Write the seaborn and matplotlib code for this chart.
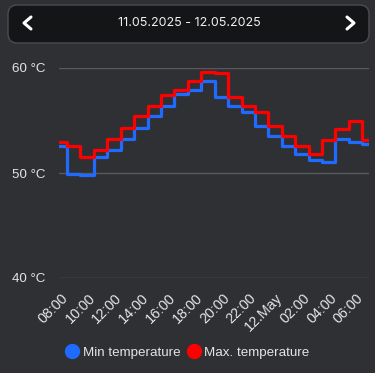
# Min / max temperature step chart, 11.05.2025 - 12.05.2025

import pandas as pd
import matplotlib.pyplot as plt
import matplotlib.transforms as mtransforms
from matplotlib.patches import FancyBboxPatch
from matplotlib.lines import Line2D
import seaborn as sns

# data (hourly values, step style)
times = ["2025-05-11 07:24",
         "2025-05-11 08:00", "2025-05-11 09:00", "2025-05-11 10:00", "2025-05-11 11:00",
         "2025-05-11 12:00", "2025-05-11 13:00", "2025-05-11 14:00", "2025-05-11 15:00",
         "2025-05-11 16:00", "2025-05-11 17:00", "2025-05-11 18:00", "2025-05-11 19:00",
         "2025-05-11 20:00", "2025-05-11 21:00", "2025-05-11 22:00", "2025-05-11 23:00",
         "2025-05-12 00:00", "2025-05-12 01:00", "2025-05-12 02:00", "2025-05-12 03:00",
         "2025-05-12 04:00", "2025-05-12 05:00", "2025-05-12 06:00", "2025-05-12 06:30"]
min_temp = [52.6, 49.9, 49.8, 51.5, 52.2, 53.2, 54.3, 55.4, 56.4, 57.5, 57.9, 58.8, 57.2,
            56.4, 55.8, 54.5, 53.5, 52.6, 51.8, 51.2, 51.05, 53.2, 53.0, 52.8, 52.8]
max_temp = [53.0, 52.6, 51.5, 52.2, 53.2, 54.3, 55.4, 56.4, 57.4, 57.9, 58.8, 59.6, 59.55,
            57.2, 56.4, 55.8, 54.5, 53.5, 52.6, 51.8, 53.1, 54.2, 55.0, 53.1, 53.1]

tick_times = ["2025-05-11 08:00", "2025-05-11 10:00", "2025-05-11 12:00", "2025-05-11 14:00",
              "2025-05-11 16:00", "2025-05-11 18:00", "2025-05-11 20:00", "2025-05-11 22:00",
              "2025-05-12 00:00", "2025-05-12 02:00", "2025-05-12 04:00", "2025-05-12 06:00"]
tick_labels = ["08:00", "10:00", "12:00", "14:00", "16:00", "18:00", "20:00", "22:00",
               "12.May", "02:00", "04:00", "06:00"]
y_ticks = [40, 50, 60]
series_names = ["Min temperature", "Max. temperature"]
colors = {"Min temperature": "#1f6bff", "Max. temperature": "#ff0000"}

df = pd.DataFrame({
    "time": pd.to_datetime(times * 2),
    "temp": min_temp + max_temp,
    "series": [series_names[0]] * len(times) + [series_names[1]] * len(times),
})

bg = "#2f3033"
txt = "#e4e4e4"

sns.set_style("dark")
plt.rcParams["font.family"] = ["Liberation Sans", "DejaVu Sans"]

fig = plt.figure(figsize=(3.75, 3.73), dpi=100, facecolor=bg)
ax = fig.add_axes([59 / 375, 1 - 278 / 373, 310 / 375, 210 / 373])
ax.set_facecolor(bg)

sns.lineplot(data=df, x="time", y="temp", hue="series", palette=colors,
             drawstyle="steps-post", linewidth=2.3, legend=False, ax=ax)

ax.set_xlim(df["time"].min(), df["time"].max())
ax.set_ylim(40, 60)
ax.tick_params(axis="y", length=0, pad=9.5)
ax.tick_params(axis="x", length=0, pad=9.5)
ax.set_yticks(y_ticks)
ax.set_yticklabels([f"{v} °C" for v in y_ticks], color=txt, fontsize=9.6)
ax.set_xticks(pd.to_datetime(tick_times))
ax.set_xticklabels(tick_labels, rotation=45, ha="right", rotation_mode="anchor",
                   color=txt, fontsize=10.4)
# shift the rotated labels a little to the left, like the original
shift = mtransforms.ScaledTranslation(-6 / 100, 0, fig.dpi_scale_trans)
for lab in ax.get_xticklabels():
    lab.set_transform(lab.get_transform() + shift)
ax.grid(False)
ax.yaxis.grid(True, color="#58595c", linewidth=1)
ax.set_axisbelow(True)
ax.set_xlabel("")
ax.set_ylabel("")
for s in ax.spines.values():
    s.set_visible(False)

# legend
handles = [Line2D([], [], marker="o", linestyle="", markersize=10,
                  markerfacecolor=colors[n], markeredgecolor=colors[n]) for n in series_names]
fig.legend(handles, series_names, loc="center", bbox_to_anchor=(0.5, 1 - 353 / 373),
           ncol=2, frameon=False, fontsize=9.6, labelcolor=txt,
           handletextpad=0.3, columnspacing=0.5, handlelength=1.0)

# header with date range
W, H = 375, 373
box = FancyBboxPatch((8 / W, 1 - 43 / H), 361 / W, 38 / H,
                     boxstyle="round,pad=0,rounding_size=0.025",
                     transform=fig.transFigure, facecolor="#141517",
                     edgecolor="#4b4c50", linewidth=1)
fig.patches.append(box)
fig.text(189 / W, 1 - 23 / H, "11.05.2025 - 12.05.2025", ha="center", va="center",
         color="#f0f0f0", fontsize=9.0, family=["Inter", "DejaVu Sans"])
fig.lines.append(Line2D([31 / W, 24 / W, 31 / W], [1 - 17 / H, 1 - 23 / H, 1 - 29 / H],
                        transform=fig.transFigure, color="white", linewidth=2.2))
fig.lines.append(Line2D([347 / W, 354 / W, 347 / W], [1 - 17 / H, 1 - 23 / H, 1 - 29 / H],
                        transform=fig.transFigure, color="white", linewidth=2.2))

fig.savefig("out.png", dpi=100, facecolor=bg)
